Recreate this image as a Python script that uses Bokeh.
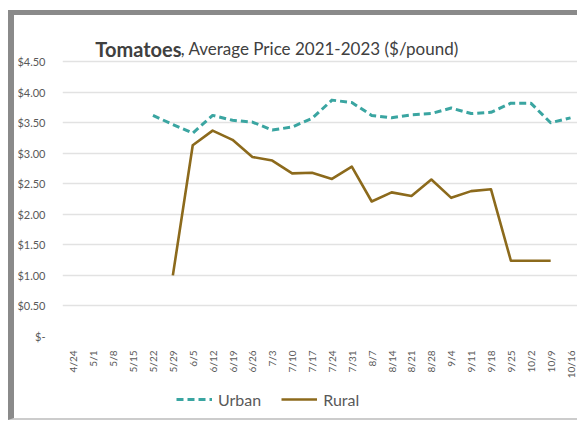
import math
from bokeh.plotting import figure
from bokeh.layouts import column
from bokeh.models import (Range1d, FixedTicker, Label, Legend, LegendItem)
from bokeh.embed import file_html
from bokeh.resources import INLINE

categories = ["4/24", "5/1", "5/8", "5/15", "5/22", "5/29", "6/5", "6/12", "6/19",
              "6/26", "7/3", "7/10", "7/17", "7/24", "7/31", "8/7", "8/14", "8/21",
              "8/28", "9/4", "9/11", "9/18", "9/25", "10/2", "10/9", "10/16"]

urban_start = "5/22"
urban_prices = [3.62, 3.47, 3.33, 3.62, 3.54, 3.51, 3.38, 3.43, 3.57, 3.87, 3.83,
                3.62, 3.58, 3.63, 3.65, 3.74, 3.65, 3.67, 3.82, 3.82, 3.50, 3.58]

rural_start = "5/29"
rural_prices = [1.00, 3.13, 3.37, 3.22, 2.94, 2.88, 2.67, 2.68, 2.58, 2.78, 2.21,
                2.36, 2.30, 2.57, 2.27, 2.38, 2.41, 1.24, 1.24, 1.24]

y_ticks = [0, 0.5, 1.0, 1.5, 2.0, 2.5, 3.0, 3.5, 4.0, 4.5]
y_tick_labels = ["$-", "$0.50", "$1.00", "$1.50", "$2.00", "$2.50", "$3.00",
                 "$3.50", "$4.00", "$4.50"]

FONT = "Lato"
TXT = "#595959"
TITLE_C = "#404040"
URBAN_C = "#3aa5a1"
RURAL_C = "#8c6a1c"

# page layout (body margin is 0): frame x 59..577, y 15..342 (title inside frame)
PX_PER_Y = 280.0 / 4.5
X0, X1 = -0.55, -0.55 + 518 / 20.0
Y0, Y1 = 0.0, 4.5 + (62 - 15) / PX_PER_Y
p = figure(width=563, height=366, output_backend="svg", toolbar_location=None,
           x_range=Range1d(X0, X1), y_range=Range1d(Y0, Y1),
           min_border_left=45, min_border_right=0, min_border_top=0,
           min_border_bottom=39)
p.outline_line_color = None
p.xgrid.grid_line_color = None
p.ygrid.grid_line_color = "#e2e2e2"
p.ygrid.grid_line_width = 1.5
p.ygrid.ticker = FixedTicker(ticks=y_ticks)

def dx(px):
    return X0 + (px - 59) / 20.0
def dy(py):
    return 4.5 - (py - 62) / PX_PER_Y

ux = [categories.index(urban_start) + i for i in range(len(urban_prices))]
rx = [categories.index(rural_start) + i for i in range(len(rural_prices))]

r_urban = p.line(ux, urban_prices, line_color=URBAN_C, line_width=3,
                 line_dash="7 4", line_join="round")
r_rural = p.line(rx, rural_prices, line_color=RURAL_C, line_width=2.6,
                 line_join="round")

xa = p.xaxis[0]
xa.ticker = FixedTicker(ticks=list(range(len(categories))))
xa.major_label_overrides = {i: c for i, c in enumerate(categories)}
xa.major_label_orientation = math.pi / 2
xa.major_label_text_font = FONT
xa.major_label_text_font_size = "10px"
xa.major_label_text_color = TXT
xa.major_label_standoff = 8
xa.axis_line_color = None
xa.major_tick_line_color = None
xa.minor_tick_line_color = None

ya = p.yaxis[0]
ya.ticker = FixedTicker(ticks=y_ticks)
ya.major_label_overrides = {t: l for t, l in zip(y_ticks, y_tick_labels)}
ya.major_label_text_font = FONT
ya.major_label_text_font_size = "11px"
ya.major_label_text_color = TXT
ya.major_label_standoff = 11
ya.axis_line_color = None
ya.major_tick_line_color = None
ya.minor_tick_line_color = None

# Title (bold first word, regular rest)
p.add_layout(Label(x=dx(92), y=dy(49), text="Tomatoes", text_font=FONT,
                   text_font_size="20px", text_font_style="bold",
                   text_color=TITLE_C, text_baseline="alphabetic"))
p.add_layout(Label(x=dx(178), y=dy(49), text=", Average Price 2021-2023 ($/pound)",
                   text_font=FONT, text_font_size="17px", text_color=TITLE_C,
                   text_baseline="alphabetic"))

# legend strip below the chart (y 381..418)
lf = figure(width=563, height=37, output_backend="svg", toolbar_location=None,
            x_range=Range1d(0, 1), y_range=Range1d(0, 1),
            x_axis_location=None, y_axis_location=None,
            min_border_left=0, min_border_right=0, min_border_top=0,
            min_border_bottom=0)
lf.outline_line_color = None
lf.grid.grid_line_color = None
lu = lf.line([5, 6], [5, 6], line_color=URBAN_C, line_width=3, line_dash="7 4")
lr = lf.line([5, 6], [5, 6], line_color=RURAL_C, line_width=2.6)
legend = Legend(items=[LegendItem(label="Urban", renderers=[lu]),
                       LegendItem(label="Rural", renderers=[lr])],
                orientation="horizontal", location=(114, 9),
                border_line_color=None, background_fill_alpha=0,
                label_text_font=FONT, label_text_font_size="16px",
                label_text_color=TXT, glyph_width=36, label_standoff=6,
                spacing=20, padding=4, margin=0)
lf.add_layout(legend)

layout = column(p, lf, spacing=0,
                styles={"margin-left": "8px", "margin-top": "10px",
                        "border-left": "6px solid #8a8a8a",
                        "border-top": "5px solid #8a8a8a",
                        "border-bottom": "2px solid #cccccc"})

open("out.html", "w").write(file_html(layout, INLINE))
